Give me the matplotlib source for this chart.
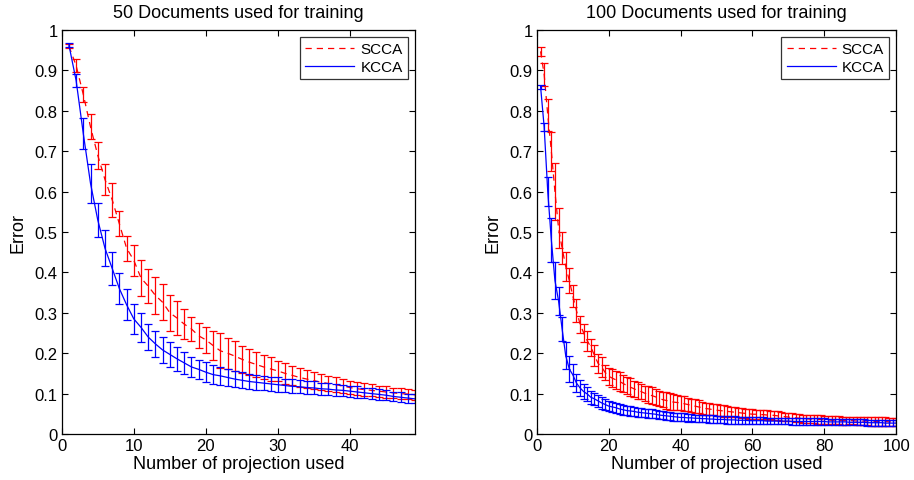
import numpy as np
import matplotlib
matplotlib.use("Agg")
import matplotlib.pyplot as plt

plt.rcParams['font.family'] = ['Liberation Sans', 'DejaVu Sans']

# 50 documents used for training (projections 1..49)
x_50 = np.arange(1, 50)
scca_50 = [0.960, 0.912, 0.840, 0.760, 0.690, 0.630, 0.580, 0.520, 0.460, 0.430,
           0.386, 0.366, 0.343, 0.326, 0.300, 0.287, 0.272, 0.260, 0.243, 0.233,
           0.219, 0.206, 0.200, 0.193, 0.185, 0.178, 0.172, 0.166, 0.161, 0.156,
           0.150, 0.145, 0.140, 0.136, 0.132, 0.128, 0.125, 0.122, 0.119, 0.115,
           0.112, 0.110, 0.108, 0.106, 0.104, 0.102, 0.100, 0.099, 0.097]
scca_50_err = [0.005, 0.015, 0.019, 0.031, 0.033, 0.038, 0.042, 0.031, 0.031, 0.039,
               0.044, 0.042, 0.046, 0.045, 0.044, 0.043, 0.037, 0.030, 0.031, 0.032,
               0.037, 0.043, 0.038, 0.036, 0.034, 0.033, 0.031, 0.030, 0.029, 0.025,
               0.025, 0.024, 0.023, 0.022, 0.021, 0.020, 0.019, 0.018, 0.018, 0.017,
               0.016, 0.016, 0.015, 0.014, 0.014, 0.013, 0.013, 0.012, 0.012]
kcca_50 = [0.963, 0.875, 0.743, 0.620, 0.530, 0.460, 0.410, 0.360, 0.320, 0.285,
           0.264, 0.240, 0.223, 0.208, 0.197, 0.186, 0.176, 0.166, 0.160, 0.153,
           0.147, 0.144, 0.140, 0.136, 0.133, 0.130, 0.128, 0.126, 0.124, 0.122,
           0.120, 0.118, 0.117, 0.115, 0.114, 0.112, 0.111, 0.109, 0.108, 0.106,
           0.104, 0.102, 0.100, 0.098, 0.096, 0.093, 0.091, 0.089, 0.087]
kcca_50_err = [0.004, 0.016, 0.038, 0.048, 0.043, 0.045, 0.040, 0.038, 0.038, 0.037,
               0.036, 0.033, 0.033, 0.032, 0.031, 0.029, 0.027, 0.025, 0.024, 0.025,
               0.024, 0.022, 0.021, 0.020, 0.020, 0.019, 0.019, 0.018, 0.018, 0.018,
               0.017, 0.017, 0.016, 0.016, 0.016, 0.015, 0.015, 0.015, 0.014, 0.014,
               0.014, 0.013, 0.013, 0.013, 0.012, 0.012, 0.012, 0.011, 0.011]

# 100 documents used for training (projections 1..100)
x_100 = np.arange(1, 101)
scca_100 = [0.947, 0.890, 0.790, 0.700, 0.600, 0.510, 0.460, 0.415, 0.380, 0.341,
            0.305, 0.272, 0.250, 0.231, 0.215, 0.195, 0.175, 0.166, 0.152, 0.143,
            0.138, 0.134, 0.130, 0.125, 0.120, 0.116, 0.112, 0.108, 0.105, 0.101,
            0.098, 0.095, 0.092, 0.088, 0.085, 0.083, 0.081, 0.079, 0.078, 0.077,
            0.075, 0.073, 0.071, 0.069, 0.067, 0.065, 0.063, 0.062, 0.060, 0.059,
            0.058, 0.057, 0.056, 0.055, 0.054, 0.053, 0.052, 0.051, 0.050, 0.049,
            0.049, 0.048, 0.048, 0.047, 0.047, 0.046, 0.045, 0.044, 0.043, 0.042,
            0.041, 0.040, 0.039, 0.038, 0.038, 0.037, 0.037, 0.036, 0.036, 0.035,
            0.035, 0.034, 0.034, 0.034, 0.033, 0.033, 0.033, 0.033, 0.032, 0.032,
            0.032, 0.032, 0.031, 0.031, 0.031, 0.031, 0.031, 0.030, 0.030, 0.030]
scca_100_err = [0.012, 0.028, 0.040, 0.048, 0.070, 0.050, 0.040, 0.036, 0.030, 0.027,
                0.028, 0.021, 0.023, 0.025, 0.021, 0.026, 0.024, 0.025, 0.019, 0.021,
                0.022, 0.023, 0.024, 0.022, 0.021, 0.022, 0.020, 0.021, 0.019, 0.019,
                0.020, 0.021, 0.019, 0.018, 0.019, 0.020, 0.021, 0.019, 0.019, 0.018,
                0.018, 0.017, 0.016, 0.017, 0.016, 0.015, 0.015, 0.015, 0.014, 0.015,
                0.014, 0.014, 0.013, 0.013, 0.013, 0.012, 0.012, 0.012, 0.012, 0.012,
                0.011, 0.012, 0.011, 0.012, 0.011, 0.011, 0.011, 0.011, 0.010, 0.011,
                0.010, 0.010, 0.010, 0.010, 0.010, 0.010, 0.010, 0.010, 0.010, 0.010,
                0.010, 0.010, 0.010, 0.010, 0.010, 0.010, 0.009, 0.009, 0.010, 0.010,
                0.010, 0.009, 0.010, 0.010, 0.010, 0.010, 0.010, 0.010, 0.010, 0.010]
kcca_100 = [0.860, 0.760, 0.600, 0.480, 0.380, 0.330, 0.260, 0.194, 0.161, 0.146,
            0.126, 0.114, 0.105, 0.099, 0.091, 0.087, 0.082, 0.077, 0.073, 0.069,
            0.067, 0.065, 0.062, 0.060, 0.058, 0.057, 0.056, 0.054, 0.053, 0.052,
            0.051, 0.050, 0.049, 0.047, 0.046, 0.045, 0.044, 0.043, 0.042, 0.041,
            0.041, 0.040, 0.040, 0.039, 0.039, 0.038, 0.038, 0.037, 0.037, 0.036,
            0.036, 0.036, 0.035, 0.035, 0.035, 0.034, 0.034, 0.034, 0.033, 0.033,
            0.033, 0.033, 0.033, 0.032, 0.032, 0.032, 0.032, 0.032, 0.032, 0.032,
            0.031, 0.031, 0.031, 0.031, 0.031, 0.031, 0.031, 0.031, 0.031, 0.031,
            0.030, 0.030, 0.030, 0.030, 0.030, 0.030, 0.029, 0.029, 0.029, 0.029,
            0.029, 0.028, 0.028, 0.028, 0.028, 0.028, 0.027, 0.027, 0.027, 0.027]
kcca_100_err = [0.005, 0.010, 0.035, 0.055, 0.045, 0.035, 0.030, 0.033, 0.033, 0.027,
                0.022, 0.019, 0.019, 0.017, 0.016, 0.015, 0.015, 0.014, 0.014, 0.013,
                0.013, 0.013, 0.012, 0.012, 0.012, 0.012, 0.012, 0.011, 0.011, 0.011,
                0.011, 0.011, 0.010, 0.010, 0.010, 0.010, 0.010, 0.010, 0.010, 0.010,
                0.010, 0.010, 0.009, 0.009, 0.009, 0.009, 0.009, 0.009, 0.009, 0.009,
                0.009, 0.009, 0.009, 0.009, 0.009, 0.009, 0.008, 0.008, 0.008, 0.008,
                0.008, 0.008, 0.008, 0.008, 0.008, 0.008, 0.008, 0.008, 0.008, 0.008,
                0.008, 0.008, 0.008, 0.008, 0.008, 0.008, 0.008, 0.008, 0.008, 0.008,
                0.008, 0.008, 0.008, 0.008, 0.007, 0.007, 0.007, 0.007, 0.007, 0.007,
                0.007, 0.007, 0.007, 0.007, 0.007, 0.007, 0.007, 0.007, 0.007, 0.007]

titles = ["50 Documents used for training", "100 Documents used for training"]
y_ticks = [0, 0.1, 0.2, 0.3, 0.4, 0.5, 0.6, 0.7, 0.8, 0.9, 1]

fig = plt.figure(figsize=(9.14, 4.81), dpi=100)
ax1 = fig.add_axes([0.0675, 0.0956, 0.3865, 0.84])
ax2 = fig.add_axes([0.5875, 0.0956, 0.393, 0.84])

panels = [
    (ax1, x_50, scca_50, scca_50_err, kcca_50, kcca_50_err, 49, [0, 10, 20, 30, 40]),
    (ax2, x_100, scca_100, scca_100_err, kcca_100, kcca_100_err, 100, [0, 20, 40, 60, 80, 100]),
]

for (ax, x, s, se, k, ke, xmax, xt), title in zip(panels, titles):
    ax.errorbar(x, s, yerr=se, fmt='none', ecolor='#ff0000', elinewidth=0.9,
                capsize=3, capthick=0.9)
    ax.plot(x, s, color='#ff0000', linestyle=(0, (5, 4)), linewidth=0.9, label='SCCA')
    ax.errorbar(x, k, yerr=ke, fmt='none', ecolor='#0000ff', elinewidth=0.9,
                capsize=3, capthick=0.9)
    ax.plot(x, k, color='#0000ff', linestyle='-', linewidth=0.9, label='KCCA')

    ax.set_xlim(0, xmax)
    ax.set_ylim(0, 1)
    ax.set_xticks(xt)
    ax.set_yticks(y_ticks)
    ax.set_yticklabels(['%g' % v for v in y_ticks])
    ax.tick_params(direction='in', top=True, right=True, length=4, width=0.8,
                   labelsize=12, pad=3)
    for sp in ax.spines.values():
        sp.set_linewidth(0.9)
    ax.set_xlabel("Number of projection used", fontsize=13, labelpad=1)
    ax.set_ylabel("Error", fontsize=13, labelpad=6)
    ax.set_title(title, fontsize=13, pad=9)
    leg = ax.legend(loc='upper right', fontsize=11, frameon=True, fancybox=False,
                    edgecolor='black', handlelength=3.2, borderaxespad=0.45,
                    borderpad=0.35, labelspacing=0.25, handletextpad=0.4)
    leg.get_frame().set_linewidth(0.9)

fig.savefig("out.png", dpi=100)
